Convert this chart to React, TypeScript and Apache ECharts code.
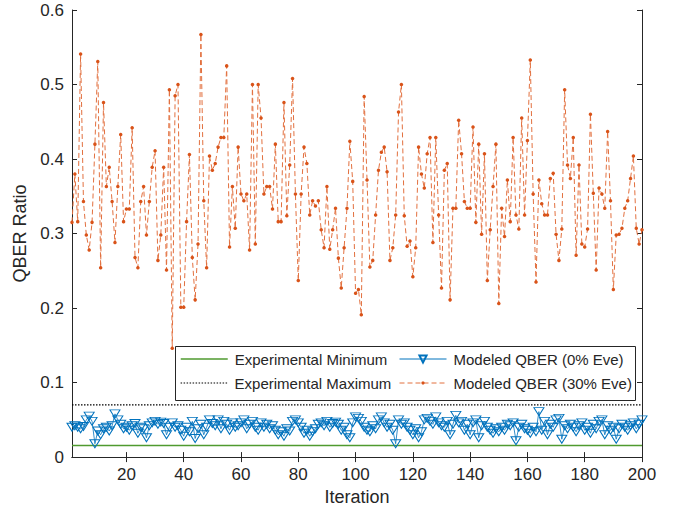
import React, { useEffect, useRef } from "react";
import * as echarts from "echarts";

const iterations: number[] = Array.from({ length: 200 }, (_, i) => i + 1);

const qber30: number[] = [
  0.315, 0.38, 0.316, 0.541, 0.343, 0.298, 0.278, 0.315, 0.42, 0.531,
  0.254, 0.476, 0.363, 0.389, 0.343, 0.288, 0.363, 0.433, 0.316, 0.333,
  0.333, 0.442, 0.268, 0.254, 0.343, 0.363, 0.298, 0.343, 0.389, 0.411,
  0.264, 0.298, 0.389, 0.251, 0.493, 0.146, 0.485, 0.5, 0.201, 0.201,
  0.316, 0.406, 0.268, 0.211, 0.286, 0.567, 0.344, 0.254, 0.404, 0.385,
  0.394, 0.416, 0.429, 0.429, 0.525, 0.282, 0.363, 0.307, 0.416, 0.353,
  0.344, 0.353, 0.278, 0.5, 0.286, 0.5, 0.455, 0.353, 0.363, 0.363,
  0.333, 0.42, 0.316, 0.316, 0.476, 0.324, 0.392, 0.508, 0.353, 0.237,
  0.353, 0.416, 0.394, 0.325, 0.344, 0.337, 0.344, 0.305, 0.281, 0.363,
  0.279, 0.305, 0.334, 0.267, 0.227, 0.281, 0.334, 0.424, 0.37, 0.22,
  0.225, 0.191, 0.484, 0.372, 0.255, 0.264, 0.325, 0.385, 0.409, 0.416,
  0.383, 0.264, 0.281, 0.325, 0.463, 0.5, 0.324, 0.283, 0.29, 0.242,
  0.281, 0.416, 0.38, 0.361, 0.407, 0.429, 0.288, 0.429, 0.325, 0.227,
  0.385, 0.394, 0.211, 0.334, 0.334, 0.452, 0.407, 0.343, 0.334, 0.334,
  0.443, 0.315, 0.42, 0.299, 0.407, 0.237, 0.305, 0.363, 0.42, 0.206,
  0.334, 0.296, 0.372, 0.316, 0.429, 0.325, 0.306, 0.455, 0.325, 0.425,
  0.533, 0.353, 0.235, 0.372, 0.34, 0.325, 0.325, 0.374, 0.381, 0.299,
  0.264, 0.306, 0.493, 0.392, 0.374, 0.429, 0.271, 0.392, 0.286, 0.282,
  0.306, 0.46, 0.354, 0.251, 0.361, 0.353, 0.334, 0.437, 0.344, 0.225,
  0.298, 0.299, 0.307, 0.334, 0.344, 0.374, 0.404, 0.307, 0.286, 0.305,
];

const qber0: number[] = [
  0.04, 0.042, 0.04, 0.038, 0.041, 0.05, 0.055, 0.048, 0.018, 0.035,
  0.03, 0.038, 0.04, 0.035, 0.042, 0.058, 0.05, 0.044, 0.038, 0.04,
  0.036, 0.042, 0.045, 0.032, 0.04, 0.038, 0.026, 0.042, 0.046, 0.048,
  0.044, 0.047, 0.045, 0.03, 0.04, 0.046, 0.04, 0.042, 0.036, 0.028,
  0.04, 0.034, 0.048, 0.025, 0.038, 0.044, 0.03, 0.04, 0.05, 0.045,
  0.042, 0.05, 0.038, 0.048, 0.044, 0.036, 0.046, 0.04, 0.042, 0.046,
  0.05, 0.038, 0.044, 0.048, 0.04, 0.036, 0.046, 0.04, 0.044, 0.038,
  0.042, 0.036, 0.03, 0.034, 0.028, 0.038, 0.035, 0.048, 0.05, 0.046,
  0.04, 0.032, 0.036, 0.028, 0.034, 0.038, 0.044, 0.046, 0.042, 0.048,
  0.04, 0.045, 0.047, 0.044, 0.036, 0.04, 0.03, 0.026, 0.046, 0.054,
  0.052, 0.048, 0.04, 0.036, 0.034, 0.042, 0.038, 0.05, 0.054, 0.046,
  0.04, 0.044, 0.036, 0.018, 0.05, 0.044, 0.046, 0.04, 0.036, 0.03,
  0.038, 0.026, 0.034, 0.05, 0.052, 0.048, 0.044, 0.054, 0.046, 0.042,
  0.04, 0.048, 0.03, 0.044, 0.056, 0.046, 0.048, 0.036, 0.044, 0.03,
  0.046, 0.05, 0.026, 0.042, 0.048, 0.04, 0.036, 0.032, 0.038, 0.034,
  0.04, 0.036, 0.044, 0.042, 0.046, 0.022, 0.04, 0.044, 0.038, 0.036,
  0.032, 0.04, 0.034, 0.061, 0.036, 0.048, 0.03, 0.044, 0.04, 0.05,
  0.052, 0.024, 0.042, 0.038, 0.044, 0.04, 0.034, 0.042, 0.046, 0.036,
  0.04, 0.032, 0.044, 0.038, 0.048, 0.05, 0.03, 0.042, 0.036, 0.04,
  0.024, 0.038, 0.044, 0.04, 0.036, 0.042, 0.046, 0.038, 0.044, 0.05,
];

const expMin = 0.0155;
const expMax = 0.07;
const xRange = [1, 200];
const xTicks = [20, 40, 60, 80, 100, 120, 140, 160, 180, 200];

const names = {
  min: "Experimental Minimum",
  max: "Experimental Maximum",
  m0: "Modeled QBER (0% Eve)",
  m30: "Modeled QBER (30% Eve)",
};

const FONT = "'Liberation Sans', Arial, Helvetica, sans-serif";
const TXT = "#262626";
const AX = "#262626";

function legendItem(name: string, left: number, centerY: number, itemHeight: number, hideSymbol: boolean, lineWidth: number) {
  return {
    data: [
      hideSymbol
        ? { name, itemStyle: { color: "rgba(0,0,0,0)", borderWidth: 0 } }
        : { name },
    ],
    orient: "vertical",
    left,
    top: centerY - 9,
    padding: 0,
    itemWidth: 47,
    itemHeight,
    selectedMode: false,
    lineStyle: { width: lineWidth },
    textStyle: { fontSize: 15, color: TXT, fontFamily: FONT, lineHeight: 18, padding: [0, 0, 0, 2] },
    z: 10,
  };
}

export default function App() {
  const ref = useRef<HTMLDivElement>(null);
  useEffect(() => {
    document.body.style.margin = "0";
    const chart = echarts.init(ref.current!, null, { renderer: "svg" });
    const axisCommon = {
      axisLine: { show: true, lineStyle: { color: AX, width: 1 } },
      splitLine: { show: false },
    };
    chart.setOption({
      animation: false,
      backgroundColor: "#ffffff",
      textStyle: { fontFamily: FONT },
      grid: { left: 72, right: 31, top: 10, bottom: 50 },
      xAxis: [
        {
          type: "value",
          min: xRange[0],
          max: xRange[1],
          position: "bottom",
          ...axisCommon,
          axisTick: { show: true, inside: true, length: 5, customValues: xTicks, lineStyle: { color: AX } },
          axisLabel: { customValues: xTicks, fontSize: 17, color: TXT, margin: 9, fontFamily: FONT },
          name: "Iteration",
          nameLocation: "middle",
          nameGap: 30,
          nameTextStyle: { fontSize: 18, color: TXT, fontFamily: FONT },
        },
        {
          type: "value",
          min: xRange[0],
          max: xRange[1],
          position: "top",
          ...axisCommon,
          axisTick: { show: true, inside: true, length: 5, customValues: xTicks, lineStyle: { color: AX } },
          axisLabel: { show: false },
        },
      ],
      yAxis: [
        {
          type: "value",
          min: 0,
          max: 0.6,
          interval: 0.1,
          ...axisCommon,
          axisTick: { show: true, inside: true, length: 5, lineStyle: { color: AX } },
          axisLabel: {
            fontSize: 17,
            color: TXT,
            margin: 8,
            fontFamily: FONT,
            formatter: (v: number) => String(+v.toFixed(1)),
          },
          name: "QBER Ratio",
          nameLocation: "middle",
          nameGap: 37,
          nameTextStyle: { fontSize: 18, color: TXT, fontFamily: FONT },
        },
        {
          type: "value",
          min: 0,
          max: 0.6,
          interval: 0.1,
          position: "right",
          ...axisCommon,
          axisTick: { show: true, inside: true, length: 5, lineStyle: { color: AX } },
          axisLabel: { show: false },
        },
      ],
      legend: [
        legendItem(names.min, 180, 359, 10, true, 1.5),
        legendItem(names.max, 180, 383, 10, true, 1.2),
        legendItem(names.m0, 399, 359, 9, false, 1),
        legendItem(names.m30, 399, 383, 4, false, 1),
      ],
      graphic: [
        {
          type: "rect",
          left: 175,
          top: 346,
          z: 8,
          shape: { width: 460, height: 54 },
          style: { fill: "#ffffff", stroke: "#262626", lineWidth: 1 },
        },
      ],
      series: [
        {
          name: names.min,
          type: "line",
          data: xRange.map((x) => [x, expMin]),
          symbol: "none",
          lineStyle: { color: "#4f9a2f", width: 1.5 },
          itemStyle: { color: "#4f9a2f" },
          z: 1,
        },
        {
          name: names.max,
          type: "line",
          data: xRange.map((x) => [x, expMax]),
          symbol: "none",
          lineStyle: { color: "#000000", width: 1.2, type: [1.5, 1.5] },
          itemStyle: { color: "#000000" },
          z: 1,
        },
        {
          name: names.m0,
          type: "line",
          data: iterations.map((x, i) => [x, qber0[i]]),
          symbol: "triangle",
          symbolRotate: 180,
          symbolSize: [10, 8],
          showAllSymbol: true,
          lineStyle: { color: "#0072BD", width: 0.8 },
          itemStyle: { color: "rgba(255,255,255,0)", borderColor: "#0072BD", borderWidth: 1 },
          z: 3,
        },
        {
          name: names.m30,
          type: "line",
          data: iterations.map((x, i) => [x, qber30[i]]),
          symbol: "circle",
          symbolSize: 3.5,
          showAllSymbol: true,
          lineStyle: { color: "#E2703F", width: 1, type: [5, 3] },
          itemStyle: { color: "#D95319", borderWidth: 0 },
          z: 2,
        },
      ],
    });
    return () => chart.dispose();
  }, []);
  return <div ref={ref} style={{ width: 673, height: 511, position: "absolute", left: 0, top: 0 }} />;
}
